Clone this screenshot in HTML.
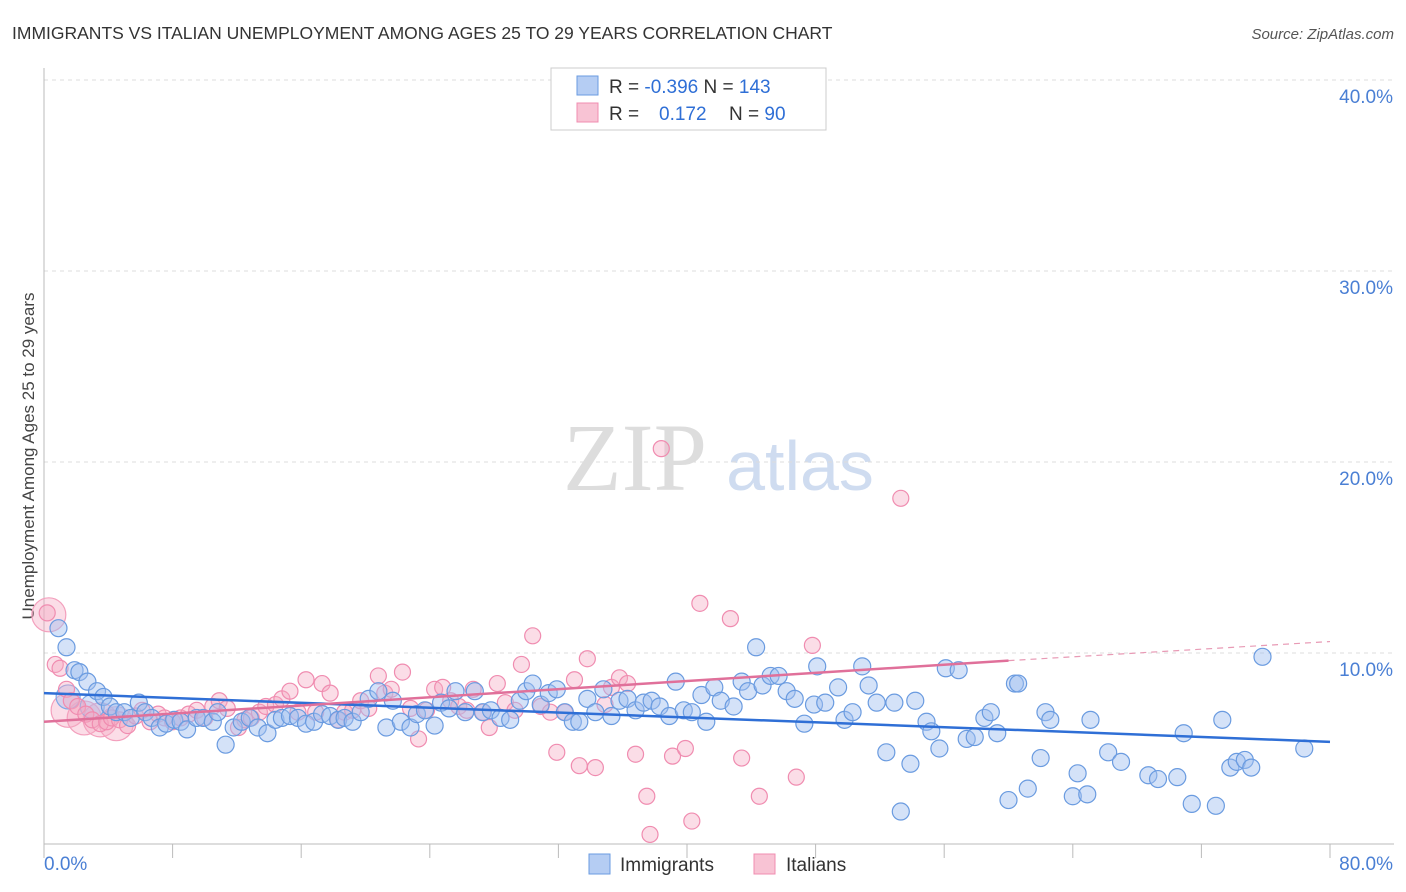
<!DOCTYPE html>
<html><head><meta charset="utf-8">
<style>
body{margin:0;background:#fff;font-family:"Liberation Sans",sans-serif;}
svg{display:block}
</style></head>
<body>
<svg id="chart" width="1406" height="892" xmlns="http://www.w3.org/2000/svg">
<text x="12" y="39" font-size="17.5" fill="#333">IMMIGRANTS VS ITALIAN UNEMPLOYMENT AMONG AGES 25 TO 29 YEARS CORRELATION CHART</text>
<text x="1394" y="39" font-size="15" fill="#555" font-style="italic" text-anchor="end">Source: ZipAtlas.com</text>
<text transform="translate(34,456) rotate(-90)" font-size="17" fill="#444" text-anchor="middle">Unemployment Among Ages 25 to 29 years</text>
<g>
<text x="635" y="490" font-size="96" font-family="Liberation Serif,serif" fill="#ddd" text-anchor="middle">ZIP</text>
<text x="800" y="490" font-size="70" fill="#cfdcf0" text-anchor="middle">atlas</text>
</g>
<g id="grid"></g>
<g id="axes"></g>
<g id="points"></g>
<g id="trends"></g>
<g>
<rect x="551" y="68" width="275" height="62" fill="#fff" stroke="#ccc"/>
<rect x="577" y="76" width="21" height="19" fill="#b5cdf3" stroke="#6a9be0"/>
<rect x="577" y="103" width="21" height="19" fill="#f8c3d4" stroke="#f08cb0"/>
<text x="609" y="93" font-size="19" fill="#333">R = <tspan fill="#2f6fd6">-0.396</tspan>   N = <tspan fill="#2f6fd6">143</tspan></text>
<text x="609" y="120" font-size="19" fill="#333">R = <tspan fill="#2f6fd6" x="659">0.172</tspan><tspan x="729">N = </tspan><tspan fill="#2f6fd6">90</tspan></text>
</g>
<g>
<rect x="589" y="854" width="21" height="20" fill="#b5cdf3" stroke="#6a9be0"/>
<text x="620" y="871" font-size="19" fill="#333">Immigrants</text>
<rect x="754" y="854" width="21" height="20" fill="#f8c3d4" stroke="#f08cb0"/>
<text x="786" y="871" font-size="19" fill="#333">Italians</text>
</g>
</svg>
<script>
const yTicks=[10,20,30,40];
const yTickLabels=["10.0%","20.0%","30.0%","40.0%"];
const xTicks=[0,8,16,24,32,40,48,56,64,72,80];
const xTickLabels=["0.0%","80.0%"];
const immX=[0.9,1.4,1.9,2.2,2.7,3.3,3.7,4.1,4.5,5.0,5.4,5.9,6.3,6.7,7.2,7.6,8.1,8.5,8.9,9.5,9.9,10.5,10.8,11.3,11.8,12.3,12.8,13.3,13.9,14.4,14.8,15.3,15.8,16.3,16.8,17.3,17.8,18.3,18.7,19.2,19.7,20.2,20.8,21.3,21.7,22.2,22.8,23.2,23.7,24.3,24.7,25.2,25.6,26.2,26.8,27.3,27.8,28.4,29.0,29.6,30.0,30.4,30.9,31.4,31.9,32.4,32.9,33.3,33.8,34.3,34.8,35.3,35.8,36.3,36.8,37.3,37.8,38.3,38.9,39.3,39.8,40.3,40.9,41.2,41.7,42.1,42.9,43.4,43.8,44.3,44.7,45.2,45.7,46.2,46.7,47.3,47.9,48.1,48.6,49.4,49.8,50.3,50.9,51.3,51.8,52.4,52.9,53.3,53.9,54.2,54.9,55.2,55.7,56.1,56.9,57.4,57.9,58.5,58.9,59.3,60.0,60.4,60.6,61.2,62.0,62.3,62.6,64.0,64.3,64.9,65.1,66.2,67.0,68.7,69.3,70.5,70.9,71.4,72.9,73.3,73.8,74.2,74.7,75.1,75.8,78.4];
const immY=[11.3,10.3,9.1,9.0,8.5,8.0,7.7,7.2,6.9,6.9,6.6,7.4,6.9,6.6,6.1,6.3,6.5,6.4,6.0,6.6,6.6,6.4,6.9,5.2,6.1,6.4,6.6,6.1,5.8,6.5,6.6,6.7,6.6,6.3,6.4,6.8,6.7,6.5,6.6,6.4,6.9,7.6,8.0,6.1,7.5,6.4,6.1,6.8,7.0,6.2,7.4,7.1,8.0,6.9,8.0,6.9,7.0,6.6,6.5,7.5,8.0,8.4,7.3,7.9,8.1,6.9,6.4,6.4,7.6,6.9,8.1,6.7,7.5,7.6,7.0,7.4,7.5,7.2,6.7,8.5,7.0,6.9,7.8,6.4,8.2,7.5,7.2,8.5,8.0,10.3,8.3,8.8,8.8,8.0,7.6,6.3,7.3,9.3,7.4,8.2,6.5,6.9,9.3,8.3,7.4,4.8,7.4,1.7,4.2,7.5,6.4,5.9,5.0,9.2,9.1,5.5,5.6,6.6,6.9,5.8,2.3,8.4,8.4,2.9,4.5,6.9,6.5,2.5,3.7,2.6,6.5,4.8,4.3,3.6,3.4,3.5,5.8,2.1,2.0,6.5,4.0,4.3,4.4,4.0,9.8,5.0];
const itaX=[0.2,0.7,1.0,1.4,1.7,2.1,2.6,3.0,3.5,3.9,4.2,4.7,5.2,5.7,6.1,6.6,7.1,7.5,8.0,8.5,9.0,9.5,10.0,10.5,10.9,11.4,12.1,12.5,12.9,13.4,13.8,14.4,14.8,15.3,15.8,16.3,16.9,17.3,17.8,18.3,18.7,19.2,19.7,20.2,20.8,21.2,21.6,22.3,22.8,23.3,23.8,24.3,24.8,25.3,25.8,26.3,26.7,27.3,27.7,28.2,28.7,29.3,29.7,30.4,30.9,31.5,31.9,32.4,33.0,33.3,33.8,34.3,34.9,35.3,35.8,36.3,36.8,37.5,37.7,38.4,39.1,39.9,40.3,40.8,42.7,43.4,44.5,46.8,47.8,53.3];
const itaY=[12.1,9.4,9.2,8.1,7.5,7.2,6.8,6.5,6.3,6.4,6.6,6.5,6.2,6.7,7.0,6.4,6.8,6.6,6.4,6.6,6.8,7.0,6.6,7.2,7.5,7.1,6.1,6.5,6.6,6.9,7.2,7.3,7.6,8.0,6.9,8.6,6.9,8.4,7.9,6.5,6.9,7.0,7.5,7.1,8.8,7.9,8.1,9.0,7.1,5.5,7.0,8.1,8.2,7.5,7.2,7.0,8.1,6.9,6.1,8.4,7.4,7.0,9.4,10.9,7.2,6.9,4.8,6.9,8.6,4.1,9.7,4.0,7.3,8.2,8.7,8.4,4.7,2.5,0.5,20.7,4.6,5.0,1.2,12.6,11.8,4.5,2.5,3.5,10.4,18.1];
const bigItaX=[0.3,1.5,2.5,3.5,4.5];
const bigItaY=[12.0,7.0,6.6,6.5,6.3];
const bigImmX=[1.5,3.0];
const bigImmY=[7.7,7.2];
const immTrend=[[0,7.9],[80,5.35]];
const itaTrend=[[0,6.4],[60,9.6]];
const itaTrendExt=[[60,9.6],[80,10.6]];

const NS="http://www.w3.org/2000/svg";
const X0=44,X1=1330,Y0=844,Y40=80;
function sx(v){return X0+(X1-X0)*v/80;}
function sy(v){return Y0-(Y0-Y40)*v/40;}
function mk(tag,attrs,parent){const e=document.createElementNS(NS,tag);for(const k in attrs)e.setAttribute(k,attrs[k]);parent.appendChild(e);return e;}
const grid=document.getElementById('grid'),axes=document.getElementById('axes'),pts=document.getElementById('points'),tr=document.getElementById('trends');
yTicks.forEach((t,i)=>{
 const l=mk('line',{x1:X0,x2:1394,y1:sy(t),y2:sy(t),stroke:'#ddd','stroke-dasharray':'4,4'},grid);
 
 
 const tx=mk('text',{x:1393,y:sy(t)+23,'font-size':19,fill:'#4a7fd4','text-anchor':'end'},axes);
 tx.textContent=yTickLabels[i];
 
 
});
const al=mk('line',{x1:X0,x2:X0,y1:68,y2:Y0,stroke:'#bbb'},axes);


const bl=mk('line',{x1:X0,x2:1394,y1:Y0,y2:Y0,stroke:'#bbb'},axes);


xTicks.forEach(t=>{
 const l=mk('line',{x1:sx(t),x2:sx(t),y1:Y0,y2:Y0+14,stroke:'#bbb'},axes);
 
 
});
const xl0=mk('text',{x:44,y:870,'font-size':19,fill:'#4a7fd4'},axes);xl0.textContent=xTickLabels[0];


const xl1=mk('text',{x:1393,y:870,'font-size':19,fill:'#4a7fd4','text-anchor':'end'},axes);xl1.textContent=xTickLabels[1];


function dots(xs,ys,r,fill,stroke,name){
 xs.forEach((v,i)=>{
  const c=mk('circle',{cx:sx(v),cy:sy(ys[i]),r:r,fill:fill,stroke:stroke,'stroke-width':1.2},pts);
  
  
 });
}
dots(bigItaX,bigItaY,17,'rgba(245,170,195,0.4)','#f3a0bd','italians-point');
dots(bigImmX,bigImmY,12,'rgba(160,190,240,0.4)','#7ea8e6','immigrants-point');
dots(itaX,itaY,8,'rgba(245,170,195,0.4)','#f08cb0','italians-point');
dots(immX,immY,8.5,'rgba(160,190,240,0.45)','#6a9be0','immigrants-point');
function line(p,stroke,dash,name){
 const l=mk('line',{x1:sx(p[0][0]),y1:sy(p[0][1]),x2:sx(p[1][0]),y2:sy(p[1][1]),stroke:stroke,'stroke-width':2.5},tr);
 if(dash){l.setAttribute('stroke-dasharray',dash);l.setAttribute('stroke-width',1.2);}
 
 
}
line(immTrend,'#2f6fd6',null,'immigrants-trend-line');
line(itaTrend,'#e0709a',null,'italians-trend-line');
line(itaTrendExt,'#e89ab5','6,5','italians-trend-extension');
</script>
</body></html>
